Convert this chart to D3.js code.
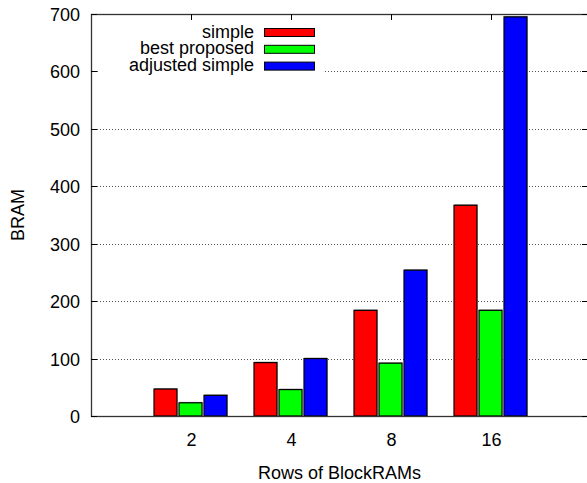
<!DOCTYPE html>
<html>
<head>
<meta charset="utf-8">
<script src="https://cdn.jsdelivr.net/npm/d3@7"></script>
<style>
  body { margin: 0; background: #fff; }
  text { font-family: "Liberation Sans", Arial, sans-serif; font-size: 18px; fill: #000; }
</style>
</head>
<body>
<div id="chart"></div>
<script>
// DATA
const categories = ['2', '4', '8', '16'];
const seriesNames = ['simple', 'best proposed', 'adjusted simple'];
const simple = [47, 93, 184, 367];
const bestProposed = [23, 46, 92, 184];
const adjustedSimple = [36, 100, 254, 695];
const yTicks = [0, 100, 200, 300, 400, 500, 600, 700];

const colors = ['#ff0000', '#00ff00', '#0000ff'];
const series = [simple, bestProposed, adjustedSimple];

document.addEventListener('DOMContentLoaded', function(){
  drawChart();
});

function drawChart() {
  const width = 587, height = 483;
  const left = 91, right = 588, top = 14, bottom = 416;

  const svg = d3.select('#chart').append('svg')
    .attr('width', width)
    .attr('height', height);

  // scales: category i sits at position i+1 on a 0..5 axis
  const x = d3.scaleLinear().domain([0, 4.97]).range([left, right]);
  const y = d3.scaleLinear().domain([0, 700]).range([bottom, top]);
  const barW = 0.25; // in x units per bar slot

  // grid lines
  svg.append('g').selectAll('line')
    .data(yTicks.filter(d => d > 0 && d < 700))
    .enter().append('line')
    .attr('x1', left).attr('x2', right)
    .attr('y1', d => Math.round(y(d)) + 0.5).attr('y2', d => Math.round(y(d)) + 0.5)
    .style('stroke', '#555')
    .style('stroke-width', 1)
    .style('stroke-dasharray', '1,2');

  // bars
  series.forEach(function(vals, s) {
    const g = svg.append('g');
    vals.forEach(function(v, i) {
      const x0 = x(i + 1 + (s - 1.5) * barW);
      const x1 = x(i + 1 + (s - 0.5) * barW);
      // shadow
      g.append('rect')
        .attr('x', x0 + 1).attr('y', y(v) - 1)
        .attr('width', x1 - x0 - 2).attr('height', bottom - y(v) + 1)
        .style('fill', '#aaa');
      g.append('rect')
        .attr('x', x0 + 0.5).attr('y', y(v))
        .attr('width', x1 - x0 - 2).attr('height', bottom - y(v))
        .style('fill', colors[s])
        .style('stroke', '#000')
        .style('stroke-width', 1.2);
    });
  });

  // legend background hides grid behind it
  svg.append('rect')
    .attr('x', 100).attr('y', 20).attr('width', 224).attr('height', 56)
    .style('fill', '#fff');
  seriesNames.forEach(function(name, s) {
    const cy = 32 + s * 16.8;
    svg.append('text')
      .attr('x', 254).attr('y', cy + 5.5)
      .attr('text-anchor', 'end')
      .text(name);
    svg.append('rect')
      .attr('x', 264.5).attr('y', cy - 3.5)
      .attr('width', 50).attr('height', 8)
      .style('fill', colors[s])
      .style('stroke', '#000')
      .style('stroke-width', 1);
  });

  // frame
  svg.append('rect')
    .attr('x', left + 0.5).attr('y', top + 0.5)
    .attr('width', right - left).attr('height', bottom - top)
    .style('fill', 'none')
    .style('stroke', '#333')
    .style('stroke-width', 1.3);

  // y axis ticks and labels
  const yAxis = svg.append('g');
  yTicks.forEach(function(t) {
    const yy = Math.round(y(t)) + 0.5;
    yAxis.append('line').attr('x1', left).attr('x2', left + 6).attr('y1', yy).attr('y2', yy).style('stroke', '#000');
    yAxis.append('line').attr('x1', right - 6).attr('x2', right).attr('y1', yy).attr('y2', yy).style('stroke', '#000');
    yAxis.append('text')
      .attr('x', 80).attr('y', yy + 6.5)
      .attr('text-anchor', 'end')
      .text(t);
  });

  // x axis ticks and labels
  const xAxis = svg.append('g');
  categories.forEach(function(c, i) {
    const xx = Math.round(x(i + 1)) + 0.5;
    xAxis.append('line').attr('x1', xx).attr('x2', xx).attr('y1', top).attr('y2', top + 6).style('stroke', '#000');
    xAxis.append('text')
      .attr('x', xx).attr('y', 446)
      .attr('text-anchor', 'middle')
      .text(c);
  });

  // axis titles
  svg.append('text')
    .attr('x', (left + right) / 2).attr('y', 479)
    .attr('text-anchor', 'middle')
    .text('Rows of BlockRAMs');
  svg.append('text')
    .attr('transform', 'translate(24,' + (top + bottom) / 2 + ') rotate(-90)')
    .attr('text-anchor', 'middle')
    .text('BRAM');
}
</script>
</body>
</html>
